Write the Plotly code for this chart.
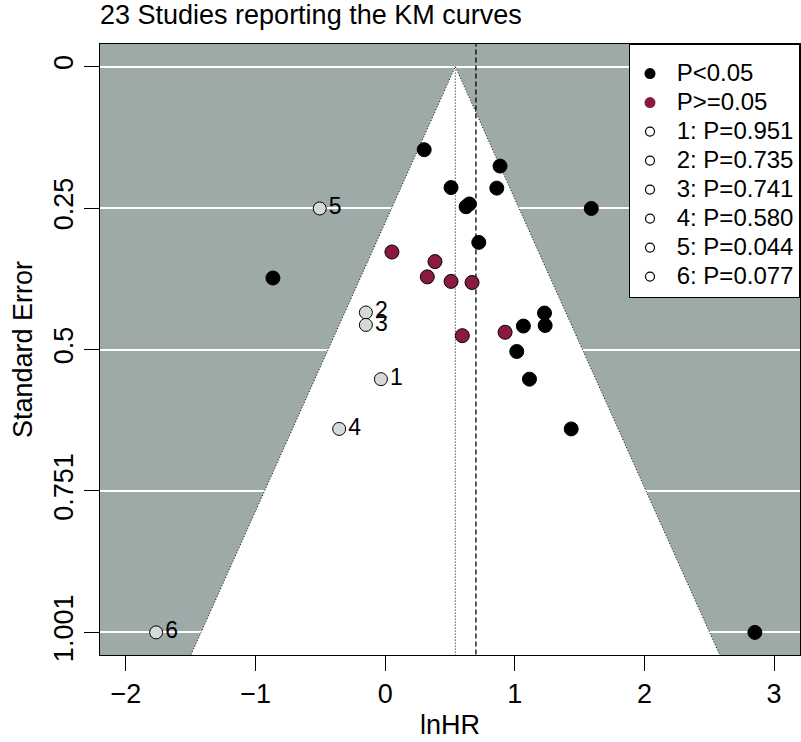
import plotly.graph_objects as go

# ---------------- data ----------------
sig_lnhr = [0.301, 0.886, 0.508, 0.861, 0.649, 0.624, 1.590, 0.722, -0.866,
            1.229, 1.234, 1.066, 1.015, 1.113, 1.435, 2.852]
sig_se = [0.147, 0.176, 0.214, 0.215, 0.243, 0.248, 0.251, 0.311, 0.374,
          0.436, 0.458, 0.459, 0.504, 0.553, 0.641, 1.001]

ns_lnhr = [0.052, 0.384, 0.325, 0.508, 0.670, 0.925, 0.595]
ns_se = [0.328, 0.345, 0.372, 0.380, 0.382, 0.470, 0.476]

filled_ids = ["1", "2", "3", "4", "5", "6"]
filled_lnhr = [-0.033, -0.149, -0.149, -0.355, -0.505, -1.767]
filled_se = [0.553, 0.435, 0.457, 0.641, 0.251, 1.001]
filled_p = ["0.951", "0.735", "0.741", "0.580", "0.044", "0.077"]

funnel_center = 0.541     # apex of the funnel (dotted line)
pooled_estimate = 0.70    # dashed line
funnel_depth = 1.2        # SE to which the funnel edges are drawn (clipped)

se_tick_vals = [0, 0.25025, 0.5005, 0.75075, 1.001]
se_tick_text = ["0", "0.25", "0.5", "0.751", "1.001"]
x_tick_vals = [-2, -1, 0, 1, 2, 3]
x_tick_text = ["\u22122", "\u22121", "0", "1", "2", "3"]

title_text = "23 Studies reporting the KM curves"

# ---------------- styles ----------------
FONT = "Liberation Sans, Arial, Helvetica, sans-serif"
BG_GRAY = "#9eaaa8"
RED = "#8b1a3f"
LIGHT = "#d4dad9"

fig = go.Figure()

# white funnel region
half = 1.96 * funnel_depth
fig.add_trace(go.Scatter(
    x=[funnel_center - half, funnel_center, funnel_center + half],
    y=[funnel_depth, 0, funnel_depth],
    mode="lines", fill="toself", fillcolor="white",
    line=dict(color="black", width=1, dash="1px,2px"),
    hoverinfo="skip", showlegend=False))

# dotted center line and dashed pooled estimate line
fig.add_trace(go.Scatter(
    x=[funnel_center, funnel_center], y=[0, funnel_depth], mode="lines",
    line=dict(color="black", width=1, dash="1px,2px"),
    hoverinfo="skip", showlegend=False))
fig.add_trace(go.Scatter(
    x=[pooled_estimate, pooled_estimate], y=[-0.2, funnel_depth], mode="lines",
    line=dict(color="black", width=1.3, dash="5px,3px"),
    hoverinfo="skip", showlegend=False))

LEG_FS = 24


def leg_name(s):
    return '<span style="font-size:%dpx">\u00a0%s</span>' % (LEG_FS, s)


# points
fig.add_trace(go.Scatter(
    x=sig_lnhr, y=sig_se, mode="markers",
    marker=dict(size=14, color="black", line=dict(color="black", width=1)),
    showlegend=False))
fig.add_trace(go.Scatter(
    x=ns_lnhr, y=ns_se, mode="markers",
    marker=dict(size=14, color=RED, line=dict(color="black", width=1)),
    showlegend=False))
fig.add_trace(go.Scatter(
    x=filled_lnhr, y=filled_se, mode="markers+text",
    text=filled_ids, textposition="middle right",
    textfont=dict(size=23, color="black", family=FONT),
    marker=dict(size=13, color=LIGHT, line=dict(color="black", width=1)),
    showlegend=False))

# legend entries
fig.add_trace(go.Scatter(x=[None], y=[None], mode="markers",
                         name=leg_name("P&lt;0.05"),
                         marker=dict(size=11, color="black")))
fig.add_trace(go.Scatter(x=[None], y=[None], mode="markers",
                         name=leg_name("P&gt;=0.05"),
                         marker=dict(size=11, color=RED)))
for i, p in zip(filled_ids, filled_p):
    fig.add_trace(go.Scatter(x=[None], y=[None], mode="markers",
                             name=leg_name("%s: P=%s" % (i, p)),
                             marker=dict(size=9, color="white",
                                         line=dict(color="black", width=1.2))))

fig.update_layout(
    width=801, height=742,
    margin=dict(l=100, r=1, t=44, b=87),
    paper_bgcolor="white", plot_bgcolor=BG_GRAY,
    font=dict(family=FONT, size=27, color="black"),
    title=dict(text=title_text, x=0, xref="paper", xanchor="left",
               y=1 - 15 / 742, yref="container", yanchor="middle",
               font=dict(size=27, color="black", family=FONT)),
    showlegend=True,
    legend=dict(x=1, xanchor="right", y=1, yanchor="top",
                bgcolor="white", bordercolor="black", borderwidth=1,
                font=dict(size=20, color="black", family=FONT),
                title=dict(text="\u00a0", font=dict(size=7)),
                itemsizing="trace", tracegroupgap=0),
    xaxis=dict(range=[-2.2, 3.2], tickvals=x_tick_vals, ticktext=x_tick_text,
               ticks="outside", ticklen=15, tickwidth=1, tickcolor="black",
               showline=True, mirror=True, linecolor="black", linewidth=1,
               showgrid=False, zeroline=False,
               tickfont=dict(size=27),
               title=dict(text="lnHR", font=dict(size=27), standoff=6)),
    yaxis=dict(range=[1.041, -0.040], tickvals=se_tick_vals, ticktext=se_tick_text,
               ticks="outside", ticklen=15, tickwidth=1, tickcolor="black",
               tickangle=-90,
               showline=True, mirror=True, linecolor="black", linewidth=1,
               showgrid=True, gridcolor="white", gridwidth=1.5, zeroline=False,
               tickfont=dict(size=27),
               title=dict(text="Standard Error", font=dict(size=27), standoff=8)),
)

fig.write_html("out.html")
